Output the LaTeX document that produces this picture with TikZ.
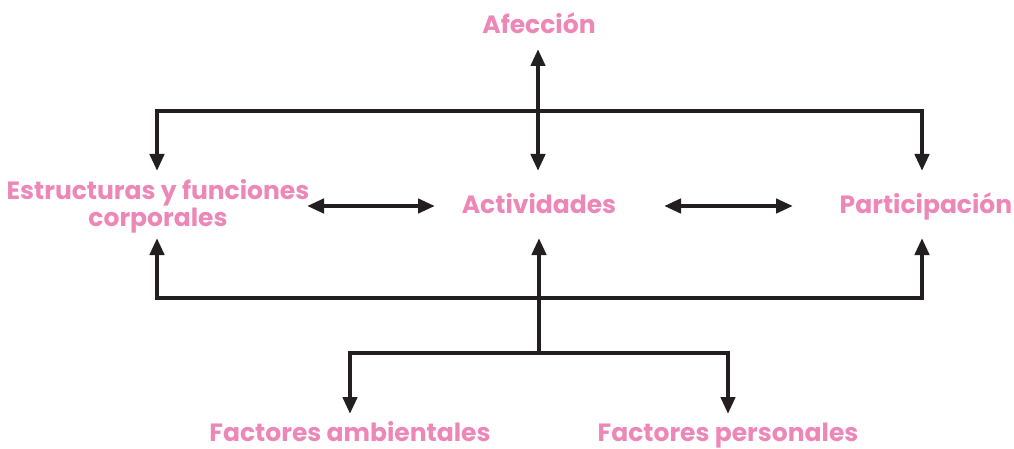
\documentclass[tikz,border=0pt]{standalone}
\usepackage{fontspec}
\setmainfont{Poppins}
\usetikzlibrary{arrows.meta}
\definecolor{pk}{HTML}{EC87B8}
\definecolor{ln}{HTML}{231F20}
\begin{document}
\begin{tikzpicture}[x=1pt,y=-1pt,
  lbl/.style={text=pk,font=\fontsize{25}{27}\selectfont\bfseries,inner sep=0pt,align=center,anchor=base},
  conn/.style={draw=ln,line width=4.5pt},
  tip/.style={-{Triangle[width=14pt,length=17pt]}},
  dtip/.style={{Triangle[width=14pt,length=17pt]}-{Triangle[width=14pt,length=17pt]}}]
\useasboundingbox (0,0) rectangle (1014,449);
\node[lbl] (afe) at (539,34) {Afección};
\node[lbl] (est) at (158,226) {Estructuras y funciones\\corporales};
\node[lbl] (act) at (539,213) {Actividades};
\node[lbl] (par) at (926,213) {Participación};
\node[lbl] (fam) at (350,441) {Factores ambientales};
\node[lbl] (fpe) at (728,441) {Factores personales};
\coordinate (tm) at (538,111);
\coordinate (bm) at (539,298);
\coordinate (jm) at (539,353);
% top
\draw[conn,dtip] (538,49) -- (538,171);
\draw[conn,tip] (tm) -| (157,171);
\draw[conn,tip] (tm) -| (922,171);
% horizontal double arrows
\draw[conn,dtip] (307,206) -- (435,206);
\draw[conn,dtip] (664,206) -- (793,206);
% bottom
\draw[conn,tip] (bm) -| (157,238);
\draw[conn,tip] (bm) -| (922,238);
\draw[conn,tip] (jm) -- (539,238);
\draw[conn,tip] (jm) -| (350,414);
\draw[conn,tip] (jm) -| (728,414);
\end{tikzpicture}
\end{document}
